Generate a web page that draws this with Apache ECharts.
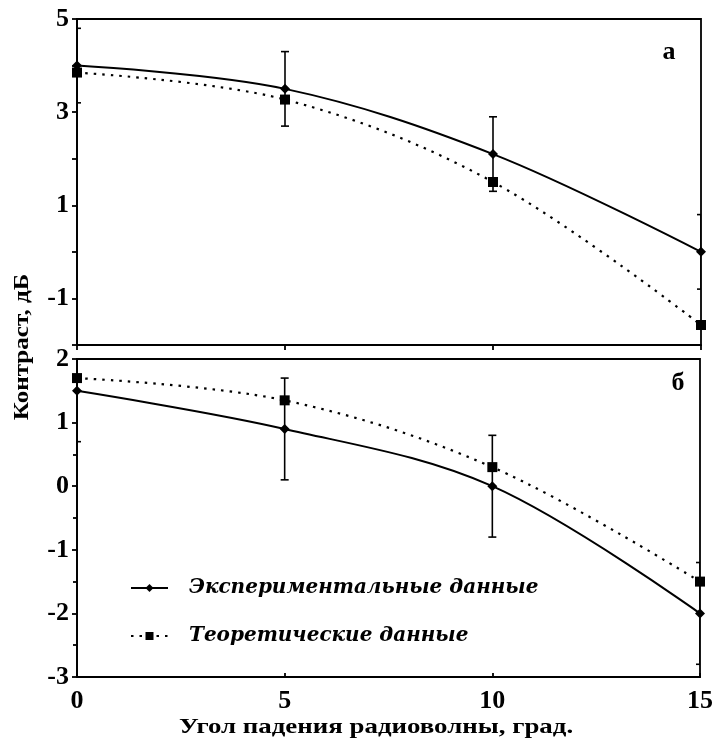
<!DOCTYPE html>
<html>
<head>
<meta charset="utf-8">
<script src="https://cdn.jsdelivr.net/npm/echarts@6/dist/echarts.min.js"></script>
<style>
html,body{margin:0;padding:0;background:#fff;}
#c{width:716px;height:744px;}
</style>
</head>
<body>
<div id="c"></div>
<script>
const angles = [0, 5, 10, 15];
const expA = [4.0, 3.5, 2.1, 0.0];
const theoA = [3.85, 3.27, 1.5, -1.57];
const errA = [0.8, 0.8, 0.8, 0.8];
const expB = [1.5, 0.9, 0.0, -2.0];
const theoB = [1.7, 1.35, 0.3, -1.5];
const errB = [0.8, 0.8, 0.8, 0.8];
const nameExp = 'Экспериментальные данные';
const nameTheo = 'Теоретические данные';
const yTitle = 'Контраст, дБ';
const xTitle = 'Угол падения радиоволны, град.';

const serif = 'Liberation Serif';
const pairs = (ys) => angles.map((x, i) => [x, ys[i]]);
const errData = (ys, es) => angles.map((x, i) => [x, ys[i] - es[i], ys[i] + es[i]]);

function errRender(params, api) {
  const x = api.value(0);
  const lo = api.coord([x, api.value(1)]);
  const hi = api.coord([x, api.value(2)]);
  const w = 4;
  const st = {stroke: '#000', lineWidth: 1.6};
  return {
    type: 'group',
    children: [
      {type: 'line', shape: {x1: lo[0], y1: lo[1], x2: hi[0], y2: hi[1]}, style: st},
      {type: 'line', shape: {x1: lo[0] - w, y1: lo[1], x2: lo[0] + w, y2: lo[1]}, style: st},
      {type: 'line', shape: {x1: hi[0] - w, y1: hi[1], x2: hi[0] + w, y2: hi[1]}, style: st}
    ]
  };
}

const axisLabelStyle = {fontFamily: serif, fontWeight: 'bold', fontSize: 26, color: '#000'};
const lineCommon = {color: '#000', width: 1.8};

const chart = echarts.init(document.getElementById('c'), null, {renderer: 'canvas'});
chart.setOption({
  animation: false,
  backgroundColor: '#fff',
  grid: [
    {left: 77, right: 15, top: 19, height: 326, show: true, borderColor: '#000', borderWidth: 1.8, backgroundColor: 'transparent'},
    {left: 77, right: 15, top: 359, height: 318, show: true, borderColor: '#000', borderWidth: 1.8, backgroundColor: 'transparent'}
  ],
  xAxis: [
    {gridIndex: 0, type: 'value', min: 0, max: 15, interval: 5,
      axisLine: {onZero: false, lineStyle: lineCommon}, axisTick: {show: true, length: 5, lineStyle: lineCommon},
      axisLabel: {show: false}, splitLine: {show: false}},
    {gridIndex: 1, type: 'value', min: 0, max: 15, interval: 5,
      axisLine: {onZero: false, lineStyle: lineCommon}, axisTick: {show: true, inside: true, length: 4, lineStyle: lineCommon},
      axisLabel: Object.assign({margin: 11}, axisLabelStyle), splitLine: {show: false}}
  ],
  yAxis: [
    {gridIndex: 0, type: 'value', min: -2, max: 5, interval: 1,
      axisLine: {show: true, onZero: false, lineStyle: lineCommon}, axisTick: {show: true, length: 5, lineStyle: lineCommon},
      axisLabel: Object.assign({margin: 8, formatter: v => (Math.abs(v % 2) === 1 ? String(v) : '')}, axisLabelStyle),
      splitLine: {show: false}},
    {gridIndex: 1, type: 'value', min: -3, max: 2, interval: 1,
      axisLine: {show: true, onZero: false, lineStyle: lineCommon}, axisTick: {show: true, length: 5, lineStyle: lineCommon},
      minorTick: {show: true, splitNumber: 2, length: 4, lineStyle: lineCommon},
      axisLabel: Object.assign({margin: 8}, axisLabelStyle),
      splitLine: {show: false}}
  ],
  legend: {
    orient: 'vertical', left: 125, top: 573, itemWidth: 37, itemHeight: 10, itemGap: 28,
    data: [nameExp, nameTheo],
    textStyle: {fontFamily: 'DejaVu Serif', fontStyle: 'italic', fontWeight: 'bold', fontSize: 20, color: '#000', padding: [0, 0, 0, 16]}
  },
  graphic: [
    {type: 'text', x: 22, y: 347, rotation: Math.PI / 2, scaleX: 1.14,
      style: {text: yTitle, font: 'bold 22px "Liberation Serif"', fill: '#000', textAlign: 'center', textVerticalAlign: 'middle'}},
    {type: 'text', x: 376, y: 728, scaleX: 1.28,
      style: {text: xTitle, font: 'bold 21px "Liberation Serif"', fill: '#000', textAlign: 'center', textVerticalAlign: 'middle'}},
    {type: 'text', x: 669, y: 52,
      style: {text: 'а', font: 'bold 26px "Liberation Serif"', fill: '#000', textAlign: 'center', textVerticalAlign: 'middle'}},
    {type: 'text', x: 678, y: 383,
      style: {text: 'б', font: 'bold 26px "Liberation Serif"', fill: '#000', textAlign: 'center', textVerticalAlign: 'middle'}}
  ],
  series: [
    {name: 'errA', type: 'custom', xAxisIndex: 0, yAxisIndex: 0, renderItem: errRender, data: errData(expA, errA), clip: true, z: 3},
    {name: 'errB', type: 'custom', xAxisIndex: 1, yAxisIndex: 1, renderItem: errRender, data: errData(expB, errB), clip: true, z: 3},
    {name: nameExp, type: 'line', xAxisIndex: 0, yAxisIndex: 0, data: pairs(expA), smooth: 0.35,
      symbol: 'diamond', symbolSize: 10, itemStyle: {color: '#000'}, lineStyle: {color: '#000', width: 2}, z: 4},
    {name: nameTheo, type: 'line', xAxisIndex: 0, yAxisIndex: 0, data: pairs(theoA), smooth: 0.35,
      symbol: 'rect', symbolSize: 10, itemStyle: {color: '#000'}, lineStyle: {color: '#000', width: 2.2, type: [2.5, 6]}, z: 4},
    {name: nameExp, type: 'line', xAxisIndex: 1, yAxisIndex: 1, data: pairs(expB), smooth: 0.35,
      symbol: 'diamond', symbolSize: 10, itemStyle: {color: '#000'}, lineStyle: {color: '#000', width: 2}, z: 4},
    {name: nameTheo, type: 'line', xAxisIndex: 1, yAxisIndex: 1, data: pairs(theoB), smooth: 0.35,
      symbol: 'rect', symbolSize: 10, itemStyle: {color: '#000'}, lineStyle: {color: '#000', width: 2.2, type: [2.5, 6]}, z: 4}
  ]
});
</script>
</body>
</html>
